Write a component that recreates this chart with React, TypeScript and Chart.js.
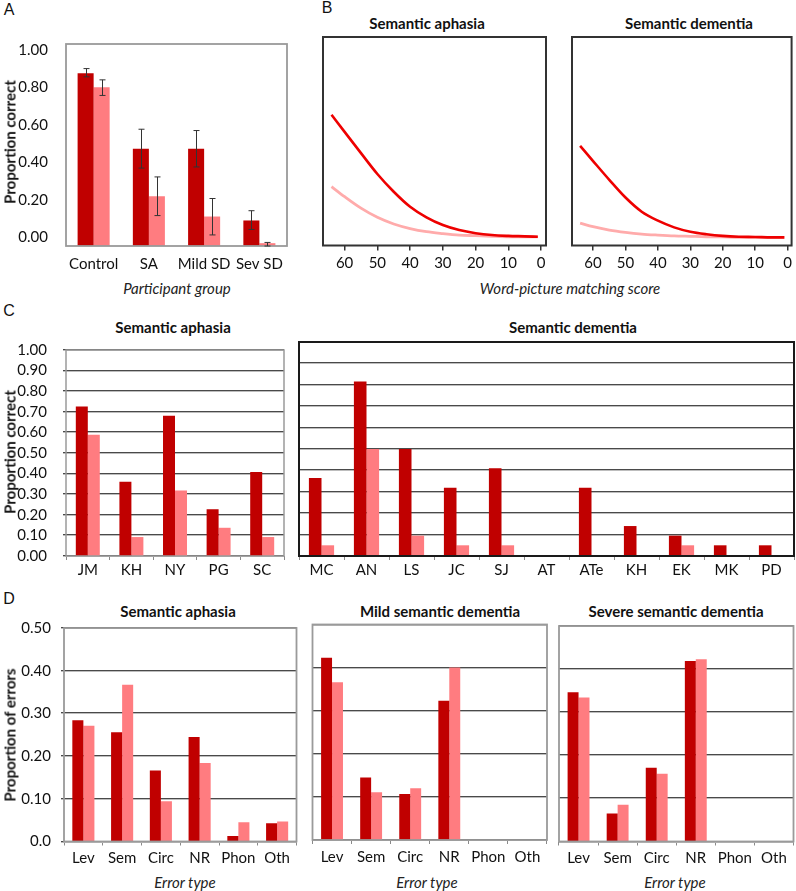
import React, { useEffect, useRef } from 'react';
import { Chart, registerables } from 'chart.js';

Chart.register(...registerables);

const DARK = '#C00000';
const LIGHT = '#FF7C80';
const CURVE_DARK = '#EE0000';
const CURVE_LIGHT = '#FFABAB';
const FONT = 'Lato, "Open Sans", sans-serif';

// ---------- Panel A ----------
const groupsA = ['Control', 'SA', 'Mild SD', 'Sev SD'];
const darkA = [0.875, 0.473, 0.473, 0.091];
const lightA = [0.8, 0.22, 0.112, -0.03];
const darkErrLoA = [0.856, 0.37, 0.376, 0.043];
const darkErrHiA = [0.9, 0.577, 0.57, 0.143];
const lightErrLoA = [0.757, 0.117, 0.014, -0.045];
const lightErrHiA = [0.84, 0.323, 0.208, -0.026];
const ticksA = [0, 0.2, 0.4, 0.6, 0.8, 1.0];
const tickLabelsA = ['0.00', '0.20', '0.40', '0.60', '0.80', '1.00'];

// ---------- Panel B ----------
const scoresB = [64, 60, 55, 50, 45, 40, 35, 30, 25, 20, 15, 10, 5, 1];
const saDarkB = [0.627, 0.545, 0.443, 0.343, 0.258, 0.186, 0.135, 0.098, 0.074, 0.059, 0.05, 0.046, 0.044, 0.042];
const saLightB = [0.282, 0.234, 0.179, 0.135, 0.103, 0.081, 0.066, 0.057, 0.05, 0.047, 0.044, 0.042, 0.042, 0.041];
const sdDarkB = [0.478, 0.405, 0.315, 0.23, 0.162, 0.119, 0.087, 0.066, 0.054, 0.046, 0.042, 0.041, 0.039, 0.039];
const sdLightB = [0.107, 0.09, 0.074, 0.063, 0.055, 0.05, 0.046, 0.044, 0.042, 0.041, 0.039, 0.039, 0.039, 0.039];
const ticksB = [60, 50, 40, 30, 20, 10, 0];

// ---------- Panel C ----------
const saPatients = ['JM', 'KH', 'NY', 'PG', 'SC'];
const saDarkC = [0.726, 0.361, 0.681, 0.227, 0.408];
const saLightC = [0.589, 0.092, 0.318, 0.137, 0.092];
const sdPatients = ['MC', 'AN', 'LS', 'JC', 'SJ', 'AT', 'ATe', 'KH', 'EK', 'MK', 'PD'];
const sdDarkC = [0.364, 0.816, 0.5, 0.319, 0.41, 0, 0.319, 0.14, 0.095, 0.05, 0.05];
const sdLightC = [0.05, 0.5, 0.095, 0.05, 0.05, 0, 0, 0, 0.05, 0, 0];
const ticksC = [0, 0.1, 0.2, 0.3, 0.4, 0.5, 0.6, 0.7, 0.8, 0.9, 1.0];
const tickLabelsC = ['0.00', '0.10', '0.20', '0.30', '0.40', '0.50', '0.60', '0.70', '0.80', '0.90', '1.00'];

// ---------- Panel D ----------
const errorTypes = ['Lev', 'Sem', 'Circ', 'NR', 'Phon', 'Oth'];
const saDarkD = [0.284, 0.256, 0.166, 0.245, 0.013, 0.043];
const saLightD = [0.271, 0.367, 0.094, 0.184, 0.045, 0.047];
const mildDarkD = [0.423, 0.145, 0.107, 0.323, 0, 0];
const mildLightD = [0.366, 0.111, 0.12, 0.4, 0, 0];
const sevDarkD = [0.346, 0.065, 0.171, 0.419, 0, 0];
const sevLightD = [0.334, 0.085, 0.157, 0.423, 0, 0];
const ticksD = [0, 0.1, 0.2, 0.3, 0.4, 0.5];
const tickLabelsD = ['0.0', '0.10', '0.20', '0.30', '0.40', '0.50'];

type Area = { x0: number; y0: number; x1: number; y1: number };
type Geo = { yw: number; pt: number; pr: number; xh: number };

const framePlugin = {
  id: 'frame',
  afterDatasetsDraw(chart: any, _args: any, opts: any) {
    const { ctx, chartArea } = chart;
    ctx.save();
    ctx.strokeStyle = opts.color || '#999';
    ctx.lineWidth = opts.width || 1.5;
    ctx.strokeRect(chartArea.left, chartArea.top, chartArea.right - chartArea.left, chartArea.bottom - chartArea.top);
    ctx.restore();
  },
};

// horizontal grid lines (dark line with a light shadow row) at every y tick of the value scale
const hGridPlugin = {
  id: 'hgrid',
  beforeDatasetsDraw(chart: any, _args: any, opts: any) {
    if (!opts || !opts.show) return;
    const { ctx, chartArea } = chart;
    const ys = chart.scales.y;
    ctx.save();
    ctx.lineWidth = 1;
    ys.ticks.forEach((t: any) => {
      const y = Math.round(ys.getPixelForValue(t.value)) - 0.5;
      ctx.strokeStyle = '#bdbdbd';
      ctx.beginPath();
      ctx.moveTo(chartArea.left - (opts.tick || 0), y + 1);
      ctx.lineTo(chartArea.right, y + 1);
      ctx.stroke();
      ctx.strokeStyle = opts.color || '#505050';
      ctx.beginPath();
      ctx.moveTo(chartArea.left - (opts.tick || 0), y);
      ctx.lineTo(chartArea.right, y);
      ctx.stroke();
    });
    ctx.restore();
  },
};

const errorBarPlugin = {
  id: 'errorBars',
  afterDatasetsDraw(chart: any) {
    const ys = chart.scales.y;
    const ctx = chart.ctx;
    ctx.save();
    ctx.strokeStyle = '#333';
    ctx.lineWidth = 1;
    chart.data.datasets.forEach((ds: any, i: number) => {
      if (!ds.errLo) return;
      const meta = chart.getDatasetMeta(i);
      meta.data.forEach((el: any, j: number) => {
        const x = Math.round(el.x) + 0.5;
        const y1 = ys.getPixelForValue(ds.errLo[j]);
        const y2 = ys.getPixelForValue(ds.errHi[j]);
        ctx.beginPath();
        ctx.moveTo(x, y1);
        ctx.lineTo(x, y2);
        ctx.moveTo(x - 3, y1);
        ctx.lineTo(x + 3, y1);
        ctx.moveTo(x - 3, y2);
        ctx.lineTo(x + 3, y2);
        ctx.stroke();
      });
    });
    ctx.restore();
  },
};

function baseOptions(g: Geo) {
  return {
    responsive: false,
    animation: false as const,
    devicePixelRatio: 1,
    events: [] as any[],
    layout: { padding: { top: g.pt, right: g.pr, left: 0, bottom: 0 } },
  };
}

const tickFont = { family: FONT, size: 15 };

type BarOpts = {
  labels: string[];
  dark: number[];
  light: number[];
  yMin: number;
  yMax: number;
  yTicks: number[];
  yLabels: string[];
  showYLabels: boolean;
  yGrid: boolean;
  yTickLen: number;
  yPad: number;
  xGrid: boolean;
  xPad: number;
  cp: number;
  frameColor: string;
  frameWidth: number;
  base?: number;
  darkErr?: [number[], number[]];
  lightErr?: [number[], number[]];
};

function barConfig(g: Geo, o: BarOpts): any {
  const dsDark: any = {
    data: o.dark,
    backgroundColor: DARK,
    borderWidth: 0,
    categoryPercentage: o.cp,
    barPercentage: 1,
  };
  const dsLight: any = {
    data: o.light,
    backgroundColor: LIGHT,
    borderWidth: 0,
    categoryPercentage: o.cp,
    barPercentage: 1,
  };
  if (o.base !== undefined) {
    dsDark.base = o.base;
    dsLight.base = o.base;
  }
  if (o.darkErr) {
    dsDark.errLo = o.darkErr[0];
    dsDark.errHi = o.darkErr[1];
  }
  if (o.lightErr) {
    dsLight.errLo = o.lightErr[0];
    dsLight.errHi = o.lightErr[1];
  }
  return {
    type: 'bar',
    data: { labels: o.labels, datasets: [dsDark, dsLight] },
    options: {
      ...baseOptions(g),
      plugins: {
        legend: { display: false },
        tooltip: { enabled: false },
        frame: { color: o.frameColor, width: o.frameWidth },
        hgrid: { show: o.yGrid, color: '#4a4a4a', tick: o.yTickLen },
      },
      scales: {
        x: {
          type: 'category',
          offset: true,
          grid: {
            display: o.xGrid,
            drawOnChartArea: false,
            tickLength: 4,
            color: '#8a8a8a',
            offset: true,
          },
          border: { display: false },
          ticks: { font: tickFont, color: '#111', padding: o.xPad, maxRotation: 0, autoSkip: false },
          afterFit: (s: any) => {
            s.height = g.xh;
          },
        },
        y: {
          type: 'linear',
          min: o.yMin,
          max: o.yMax,
          afterBuildTicks: (s: any) => {
            s.ticks = o.yTicks.map((v) => ({ value: v }));
          },
          ticks: {
            display: o.showYLabels,
            autoSkip: false,
            font: tickFont,
            color: '#111',
            padding: o.yPad + o.yTickLen,
            callback: (_v: any, i: number) => o.yLabels[i],
          },
          grid: { display: false },
          border: { display: false },
          afterFit: (s: any) => {
            s.width = g.yw;
          },
        },
      },
    },
    plugins: [hGridPlugin, framePlugin, errorBarPlugin],
  };
}

function curveConfig(g: Geo, dark: number[], light: number[], xMin: number, xMax: number): any {
  return {
    type: 'line',
    data: {
      datasets: [
        {
          data: scoresB.map((s, i) => ({ x: s, y: dark[i] })),
          borderColor: CURVE_DARK,
          borderWidth: 2.6,
          pointRadius: 0,
          cubicInterpolationMode: 'monotone',
        },
        {
          data: scoresB.map((s, i) => ({ x: s, y: light[i] })),
          borderColor: CURVE_LIGHT,
          borderWidth: 2.8,
          pointRadius: 0,
          cubicInterpolationMode: 'monotone',
        },
      ],
    },
    options: {
      ...baseOptions(g),
      plugins: {
        legend: { display: false },
        tooltip: { enabled: false },
        frame: { color: '#333', width: 2 },
      },
      scales: {
        x: {
          type: 'linear',
          reverse: true,
          min: xMin,
          max: xMax,
          afterBuildTicks: (s: any) => {
            s.ticks = ticksB.map((v) => ({ value: v }));
          },
          ticks: {
            font: tickFont,
            color: '#111',
            padding: 4,
            maxRotation: 0,
            autoSkip: false,
            callback: (_v: any, i: number) => String(ticksB[i]),
          },
          grid: { display: true, drawOnChartArea: false, tickLength: 5, color: '#333', lineWidth: 1.5 },
          border: { display: false },
          afterFit: (s: any) => {
            s.height = g.xh;
          },
        },
        y: {
          type: 'linear',
          min: 0,
          max: 1,
          ticks: { display: false },
          grid: { display: false },
          border: { display: false },
          afterFit: (s: any) => {
            s.width = g.yw;
          },
        },
      },
    },
    plugins: [framePlugin],
  };
}

function PlotCanvas({ area, yw, xh, build }: { area: Area; yw: number; xh: number; build: (g: Geo) => any }) {
  const ref = useRef<HTMLCanvasElement>(null);
  const left = Math.floor(area.x0 - yw);
  const top = Math.floor(area.y0 - 12);
  const right = Math.min(796, Math.ceil(area.x1 + 4));
  const bottom = Math.ceil(area.y1 + xh);
  const width = right - left;
  const height = bottom - top;
  const g: Geo = { yw: area.x0 - left, pt: area.y0 - top, pr: right - area.x1, xh: bottom - area.y1 };
  useEffect(() => {
    const chart = new Chart(ref.current as HTMLCanvasElement, build(g));
    return () => chart.destroy();
  }, []);
  return (
    <canvas
      ref={ref}
      width={width}
      height={height}
      style={{ position: 'absolute', left, top, width, height }}
    />
  );
}

function Label({
  x,
  y,
  text,
  size = 15,
  weight = 400,
  italic = false,
  family = FONT,
  rotate = false,
  color = '#111',
}: {
  x: number;
  y: number;
  text: string;
  size?: number;
  weight?: number;
  italic?: boolean;
  family?: string;
  rotate?: boolean;
  color?: string;
}) {
  return (
    <div
      style={{
        position: 'absolute',
        left: x,
        top: y,
        transform: `translate(-50%, -50%)${rotate ? ' rotate(-90deg)' : ''}`,
        whiteSpace: 'nowrap',
        fontFamily: family,
        fontSize: size,
        fontWeight: weight,
        fontStyle: italic ? 'italic' : 'normal',
        lineHeight: 1,
        color,
      }}
    >
      {text}
    </div>
  );
}

const LETTER_FONT = '"Liberation Sans", Arial, sans-serif';

export default function App() {
  return (
    <div
      style={{
        position: 'absolute',
        left: 0,
        top: 0,
        width: 796,
        height: 891,
        background: '#fff',
        overflow: 'hidden',
      }}
    >
      {/* Panel letters */}
      <Label x={9} y={10} text="A" size={16} family={LETTER_FONT} />
      <Label x={327} y={8} text="B" size={16} family={LETTER_FONT} />
      <Label x={9} y={311} text="C" size={16} family={LETTER_FONT} />
      <Label x={9} y={599} text="D" size={16} family={LETTER_FONT} />

      {/* Panel A */}
      <PlotCanvas
        area={{ x0: 66, y0: 37, x1: 287, y1: 246 }}
        yw={50}
        xh={30}
        build={(g) =>
          barConfig(g, {
            labels: groupsA,
            dark: darkA,
            light: lightA,
            yMin: -0.045,
            yMax: 1.031,
            yTicks: ticksA,
            yLabels: tickLabelsA,
            showYLabels: true,
            yGrid: false,
            yTickLen: 0,
            yPad: 10,
            xGrid: false,
            xPad: 5,
            cp: 0.58,
            frameColor: '#9a9a9a',
            frameWidth: 1.8,
            base: -0.045,
            darkErr: [darkErrLoA, darkErrHiA],
            lightErr: [lightErrLoA, lightErrHiA],
          })
        }
      />
      <Label x={10} y={142} text="Proportion correct" weight={700} rotate />
      <Label x={177} y={288} text="Participant group" italic color="#222" />

      {/* Panel B */}
      <Label x={427} y={23} text="Semantic aphasia" weight={700} />
      <Label x={689} y={23} text="Semantic dementia" weight={700} />
      <PlotCanvas
        area={{ x0: 323, y0: 37, x1: 546, y1: 245.5 }}
        yw={4}
        xh={30}
        build={(g) => curveConfig(g, saDarkB, saLightB, -1.5, 66.6)}
      />
      <PlotCanvas
        area={{ x0: 572, y0: 37, x1: 793.3, y1: 245.5 }}
        yw={4}
        xh={30}
        build={(g) => curveConfig(g, sdDarkB, sdLightB, -1.23, 66.5)}
      />
      <Label x={570} y={288} text="Word-picture matching score" italic color="#222" />

      {/* Panel C */}
      <Label x={173} y={327} text="Semantic aphasia" weight={700} />
      <Label x={573} y={327} text="Semantic dementia" weight={700} />
      <PlotCanvas
        area={{ x0: 66, y0: 342, x1: 284, y1: 556 }}
        yw={50}
        xh={30}
        build={(g) =>
          barConfig(g, {
            labels: saPatients,
            dark: saDarkC,
            light: saLightC,
            yMin: 0,
            yMax: 1,
            yTicks: ticksC,
            yLabels: tickLabelsC,
            showYLabels: true,
            yGrid: true,
            yTickLen: 3,
            yPad: 8,
            xGrid: true,
            xPad: 1,
            cp: 0.55,
            frameColor: '#9a9a9a',
            frameWidth: 1.5,
          })
        }
      />
      <PlotCanvas
        area={{ x0: 299, y0: 342, x1: 794, y1: 556 }}
        yw={4}
        xh={30}
        build={(g) =>
          barConfig(g, {
            labels: sdPatients,
            dark: sdDarkC,
            light: sdLightC,
            yMin: 0,
            yMax: 1,
            yTicks: ticksC,
            yLabels: tickLabelsC,
            showYLabels: false,
            yGrid: true,
            yTickLen: 0,
            yPad: 0,
            xGrid: true,
            xPad: 1,
            cp: 0.56,
            frameColor: '#1a1a1a',
            frameWidth: 2,
          })
        }
      />
      <Label x={10} y={452} text="Proportion correct" weight={700} rotate />

      {/* Panel D */}
      <Label x={178} y={611} text="Semantic aphasia" weight={700} />
      <Label x={440} y={611} text="Mild semantic dementia" weight={700} />
      <Label x={676} y={611} text="Severe semantic dementia" weight={700} />
      <PlotCanvas
        area={{ x0: 64, y0: 626.5, x1: 296.5, y1: 841.5 }}
        yw={50}
        xh={30}
        build={(g) =>
          barConfig(g, {
            labels: errorTypes,
            dark: saDarkD,
            light: saLightD,
            yMin: 0,
            yMax: 0.5,
            yTicks: ticksD,
            yLabels: tickLabelsD,
            showYLabels: true,
            yGrid: true,
            yTickLen: 3,
            yPad: 2,
            xGrid: true,
            xPad: 4,
            cp: 0.57,
            frameColor: '#9a9a9a',
            frameWidth: 1.8,
          })
        }
      />
      <PlotCanvas
        area={{ x0: 312.5, y0: 624.5, x1: 547, y1: 840 }}
        yw={4}
        xh={30}
        build={(g) =>
          barConfig(g, {
            labels: errorTypes,
            dark: mildDarkD,
            light: mildLightD,
            yMin: 0,
            yMax: 0.5,
            yTicks: ticksD,
            yLabels: tickLabelsD,
            showYLabels: false,
            yGrid: true,
            yTickLen: 0,
            yPad: 0,
            xGrid: true,
            xPad: 4,
            cp: 0.56,
            frameColor: '#9a9a9a',
            frameWidth: 1.8,
          })
        }
      />
      <PlotCanvas
        area={{ x0: 559, y0: 626, x1: 793.5, y1: 841.5 }}
        yw={4}
        xh={30}
        build={(g) =>
          barConfig(g, {
            labels: errorTypes,
            dark: sevDarkD,
            light: sevLightD,
            yMin: 0,
            yMax: 0.5,
            yTicks: ticksD,
            yLabels: tickLabelsD,
            showYLabels: false,
            yGrid: true,
            yTickLen: 0,
            yPad: 0,
            xGrid: true,
            xPad: 4,
            cp: 0.56,
            frameColor: '#9a9a9a',
            frameWidth: 1.8,
          })
        }
      />
      <Label x={10} y={735} text="Proportion of errors" weight={700} rotate />
      <Label x={185} y={882} text="Error type" italic color="#222" />
      <Label x={427} y={882} text="Error type" italic color="#222" />
      <Label x={675} y={882} text="Error type" italic color="#222" />
    </div>
  );
}
